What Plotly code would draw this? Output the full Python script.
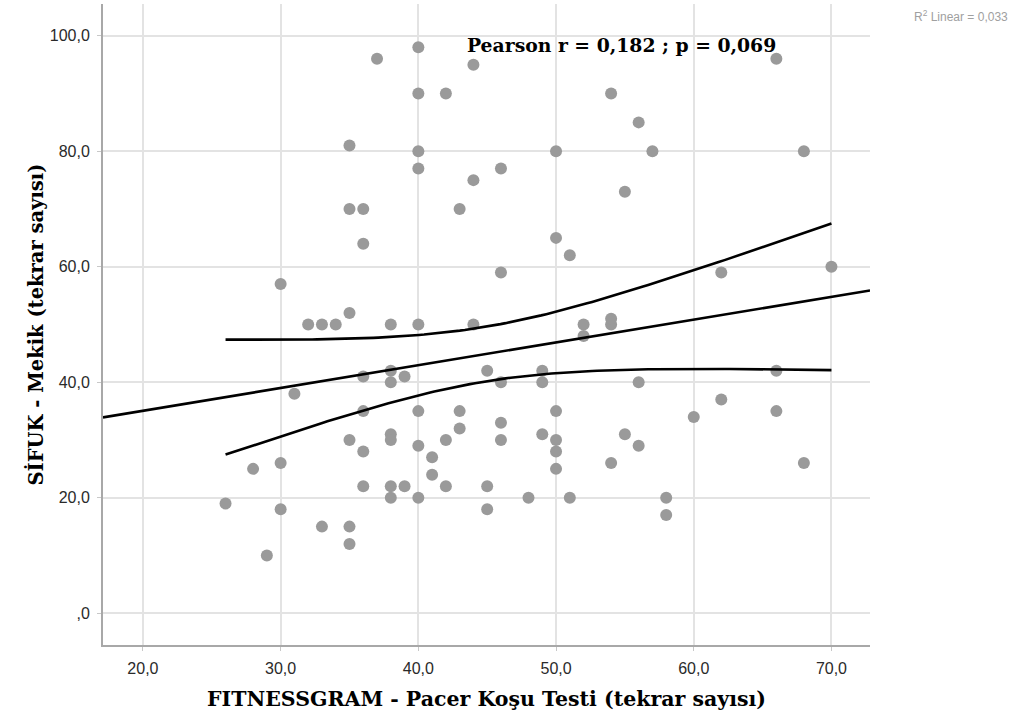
import numpy as np
import plotly.graph_objects as go

# ---- data ----
pacer = [40, 37, 44, 66, 40, 42, 54, 56, 35, 40, 50, 57, 68, 40, 46, 44, 55, 35, 36, 43,
         50, 36, 51, 70, 46, 62, 30, 35, 32, 33, 34, 38, 40, 44, 52, 54, 54, 52, 38, 45,
         49, 66, 36, 39, 38, 46, 49, 56, 31, 62, 36, 40, 43, 50, 66, 60, 46, 43, 38, 49,
         55, 35, 38, 42, 46, 50, 40, 56, 36, 50, 41, 30, 54, 68, 28, 50, 41, 36, 38, 39,
         42, 45, 38, 40, 48, 51, 58, 26, 30, 45, 58, 33, 35, 35, 29]
mekik = [98, 96, 95, 96, 90, 90, 90, 85, 81, 80, 80, 80, 80, 77, 77, 75, 73, 70, 70, 70,
         65, 64, 62, 60, 59, 59, 57, 52, 50, 50, 50, 50, 50, 50, 50, 50, 51, 48, 42, 42,
         42, 42, 41, 41, 40, 40, 40, 40, 38, 37, 35, 35, 35, 35, 35, 34, 33, 32, 31, 31,
         31, 30, 30, 30, 30, 30, 29, 29, 28, 28, 27, 26, 26, 26, 25, 25, 24, 22, 22, 22,
         22, 22, 20, 20, 20, 20, 20, 19, 18, 18, 17, 15, 15, 12, 10]

x_ticks = [20, 30, 40, 50, 60, 70]
x_labels = ["20,0", "30,0", "40,0", "50,0", "60,0", "70,0"]
y_ticks = [0, 20, 40, 60, 80, 100]
y_labels = [",0", "20,0", "40,0", "60,0", "80,0", "100,0"]

x_title = "FITNESSGRAM - Pacer Koşu Testi (tekrar sayısı)"
y_title = "SİFUK - Mekik (tekrar sayısı)"
stat_text = "Pearson r = 0,182 ; p = 0,069"
r2_text = "R<sup>2</sup> Linear = 0,033"

X_RANGE = [17.1, 72.8]
Y_RANGE = [-5.5, 105.5]

# ---- linear fit and 95% mean confidence band (derived from data) ----
xa = np.array(pacer, dtype=float)
ya = np.array(mekik, dtype=float)
n = len(xa)
slope, intercept = np.polyfit(xa, ya, 1)
resid = ya - (intercept + slope * xa)
s = np.sqrt(np.sum(resid ** 2) / (n - 2))
sxx = np.sum((xa - xa.mean()) ** 2)
t_crit = 1.986

fit_x = np.array(X_RANGE)
fit_y = intercept + slope * fit_x

band_x = np.linspace(xa.min(), xa.max(), 120)
band_fit = intercept + slope * band_x
half = t_crit * s * np.sqrt(1.0 / n + (band_x - xa.mean()) ** 2 / sxx)

fig = go.Figure()
fig.add_trace(go.Scatter(x=pacer, y=mekik, mode="markers",
                         marker=dict(color="#9a9a9a", size=12, line=dict(width=0)),
                         hoverinfo="skip", showlegend=False))
line_style = dict(color="black", width=2.6)
fig.add_trace(go.Scatter(x=fit_x, y=fit_y, mode="lines", line=line_style,
                         hoverinfo="skip", showlegend=False))
fig.add_trace(go.Scatter(x=band_x, y=band_fit + half, mode="lines", line=line_style,
                         hoverinfo="skip", showlegend=False))
fig.add_trace(go.Scatter(x=band_x, y=band_fit - half, mode="lines", line=line_style,
                         hoverinfo="skip", showlegend=False))

L, R, T, B = 103, 145, 4, 70
W, H = 1015, 715
tick_font = dict(family="Liberation Sans, Arial, sans-serif", size=16, color="#2a2a2a")
x_title_font = dict(family="DejaVu Serif, serif", size=20.5, color="black")
y_title_font = dict(family="DejaVu Serif, serif", size=19.5, color="black")


def px_to_paper(px, py):
    return (px - L) / (W - L - R), 1 - (py - T) / (H - T - B)


ax1, ay1 = px_to_paper(465, 45)
ax2, ay2 = px_to_paper(1010, 16)

fig.update_layout(
    width=W, height=H,
    margin=dict(l=L, r=R, t=T, b=B, autoexpand=False),
    paper_bgcolor="white", plot_bgcolor="white",
    hovermode=False,
    xaxis=dict(range=X_RANGE, tickvals=x_ticks, ticktext=x_labels,
               showgrid=True, gridcolor="#e3e3e3", gridwidth=1.5,
               showline=True, linecolor="#a8a8a8", linewidth=2,
               ticks="outside", ticklen=4, tickcolor="#c8c8c8",
               tickfont=tick_font, zeroline=False, ticklabelstandoff=4,
               title=dict(text="<b>" + x_title + "</b>", font=x_title_font, standoff=15)),
    yaxis=dict(range=Y_RANGE, tickvals=y_ticks, ticktext=y_labels,
               showgrid=True, gridcolor="#e3e3e3", gridwidth=1.5,
               showline=True, linecolor="#a8a8a8", linewidth=2,
               ticks="outside", ticklen=4, tickcolor="#c8c8c8",
               tickfont=tick_font, zeroline=False, ticklabelstandoff=4,
               title=dict(text="<b>" + y_title + "</b>", font=y_title_font, standoff=1)),
    annotations=[
        dict(x=ax1, y=ay1, xref="paper", yref="paper", text="<b>" + stat_text + "</b>",
             showarrow=False, xanchor="left", yanchor="middle",
             font=dict(family="DejaVu Serif, serif", size=18.8, color="black")),
        dict(x=ax2, y=ay2, xref="paper", yref="paper", text=r2_text,
             showarrow=False, xanchor="right", yanchor="middle",
             font=dict(family="Liberation Sans, Arial, sans-serif", size=12, color="#a0a0a0")),
    ],
)

fig.write_html("out.html", config={"displayModeBar": False},
               post_script="document.body.style.margin='0px';")
